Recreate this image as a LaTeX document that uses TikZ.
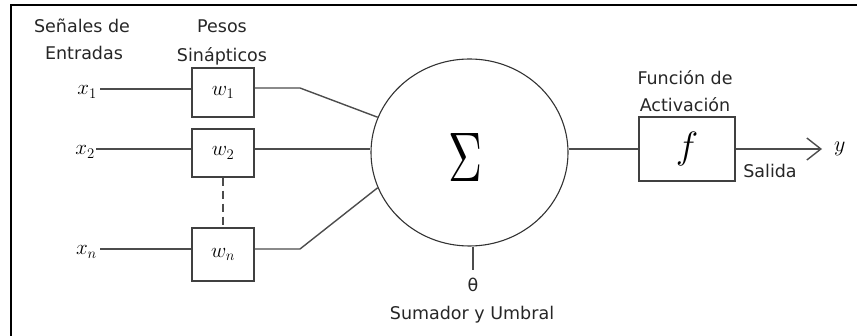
\RequirePackage{fix-cm}
\documentclass[tikz,border=0pt]{standalone}
\usepackage{fontspec}
\setmainfont{DejaVu Sans}
\usepackage{graphicx}
\usetikzlibrary{shapes.geometric,arrows.meta}
\begin{document}
\begin{tikzpicture}[x=1pt,y=-1pt,
  lbl/.style={font=\fontsize{17.5}{20}\selectfont, text=black!85, inner sep=0},
  mth/.style={font=\fontsize{21}{24}\selectfont, inner sep=0},
  wbox/.style={draw=black!75, line width=1.3pt, minimum width=62pt, inner sep=0, font=\fontsize{21}{24}\selectfont},
  conn/.style={draw=black!70, line width=1.4pt},
]
\useasboundingbox (0,0) rectangle (857,336);
% frame (left and top edges)
\draw[line width=1.6pt] (11,336) -- (11,5) -- (857,5);

% titles
\node[lbl, anchor=base] (sen) at (82,33) {Señales de};
\node[lbl, anchor=base] (ent) at (84,60) {Entradas};
\node[lbl, anchor=base] (pes) at (222,33) {Pesos};
\node[lbl, anchor=base] (sin) at (222,62) {Sinápticos};
\node[lbl, anchor=base] (fun) at (685,85) {Función de};
\node[lbl, anchor=base] (act) at (685,112) {Activación};
\node[lbl, anchor=base] (sal) at (770,178) {Salida};
\node[lbl, anchor=base] (theta) at (473,292) {θ};
\node[lbl, anchor=base] (sumu) at (472,320) {Sumador y Umbral};

% input labels
\node[mth, anchor=base east] (x1) at (97,95) {$x_1$};
\node[mth, anchor=base east] (x2) at (95,155) {$x_2$};
\node[mth, anchor=base east] (xn) at (97,255) {$x_n$};

% line rows
\coordinate (r1) at (100,89);
\coordinate (r2) at (96,149);
\coordinate (rn) at (100,249);
\coordinate (k1) at (300,88);
\coordinate (kn) at (300,249);

% weight boxes
\node[wbox, minimum height=49pt] (w1) at (223,92.5) {$w_1$};
\node[wbox, minimum height=48pt] (w2) at (223,153) {$w_2$};
\node[wbox, minimum height=53pt] (wn) at (223,254.5) {$w_n$};

% summation node
\node[ellipse, draw=black!80, line width=1.1pt, minimum width=197pt, minimum height=187pt, inner sep=0] (sum) at (469.5,152.5) {};
\node[inner sep=0] (sig) at (466,157.5) {\resizebox{34pt}{48pt}{$\Sigma$}};

% activation box
\node[draw=black!75, line width=1.3pt, minimum width=96pt, minimum height=64pt, inner sep=0, font=\fontsize{38}{40}\selectfont] (f) at (687,149) {$f$};

% output
\coordinate (yend) at (822,149);
\node[mth, anchor=base west, font=\fontsize{22}{24}\selectfont] (y) at (834,152) {$y$};

% connectors
\draw[conn] (r1) -- (r1 -| w1.west);
\draw[conn] (r2) -- (r2 -| w2.west);
\draw[conn] (rn) -- (rn -| wn.west);
\draw[conn] (w1.east |- k1) -- (k1) -- (sum.159);
\draw[conn] (w2.east |- r2) -- (r2 -| sum.west);
\draw[conn] (wn.east |- kn) -- (kn) -- (sum.201);
\draw[conn, dash pattern=on 8pt off 5pt] (w2.south) -- (wn.north);
\coordinate (th) at (473,270);
\draw[conn] (th |- sum.south) -- (th);
\draw[conn] (f.west -| sum.east) -- (f.west);
\draw[conn, -{Straight Barb[length=14pt,width=22pt,line width=1.4pt]}] (f.east) -- (yend);
\end{tikzpicture}
\end{document}
